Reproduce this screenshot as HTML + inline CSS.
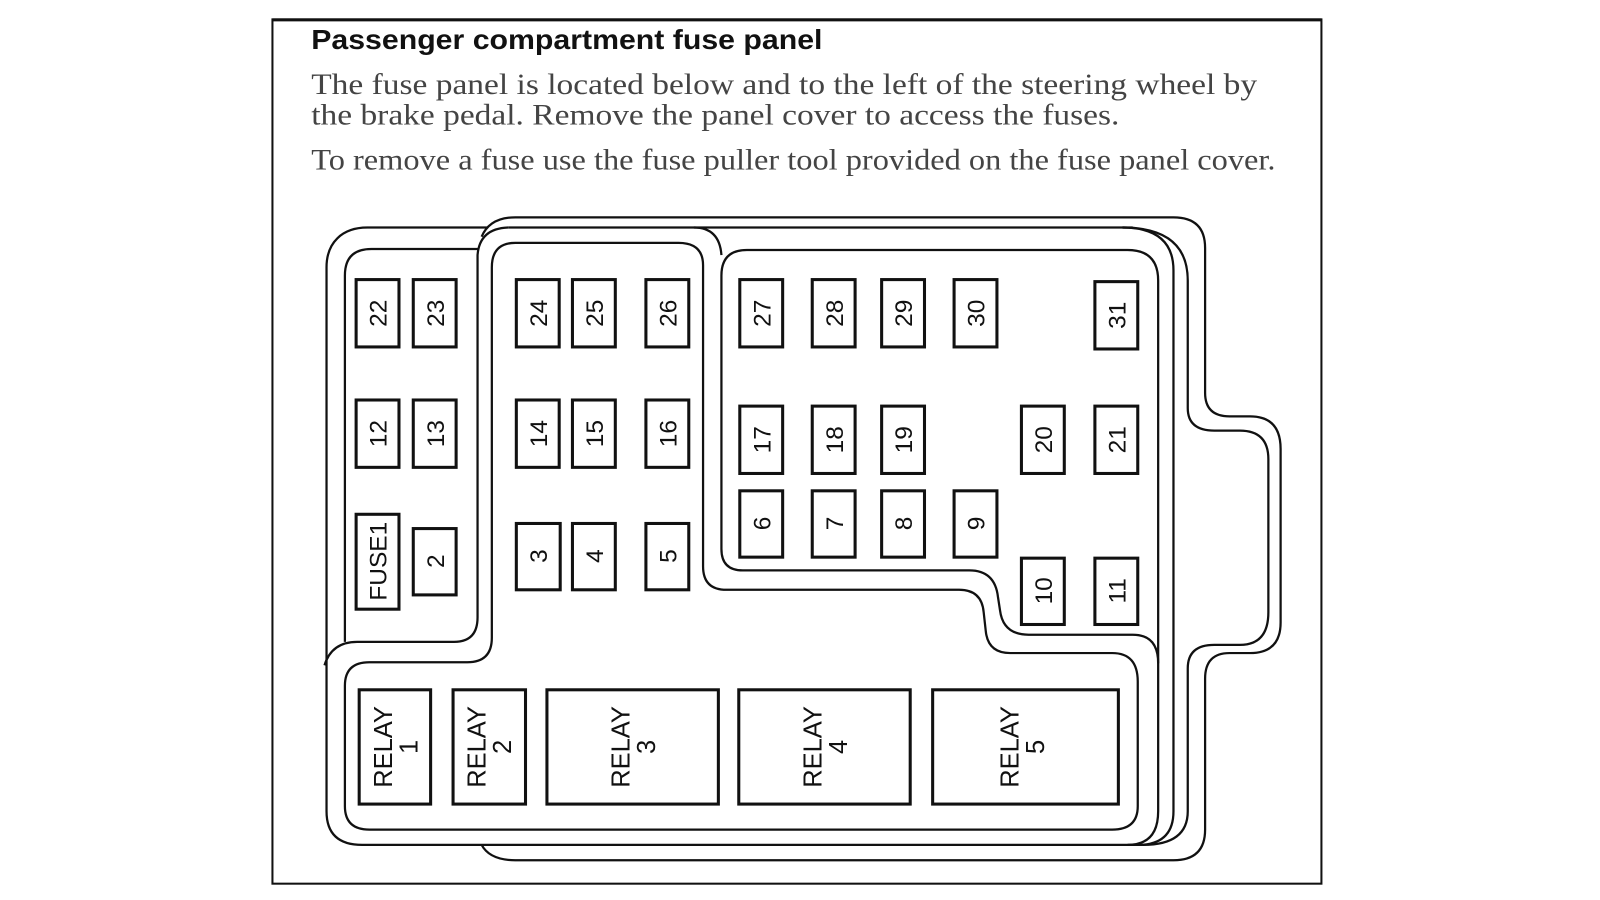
<!DOCTYPE html>
<html><head><meta charset="utf-8"><style>
html,body{margin:0;padding:0;background:#fff;width:1600px;height:900px;overflow:hidden}
svg{display:block}
</style></head><body>
<svg width="1600" height="900" viewBox="0 0 1568 882" xmlns="http://www.w3.org/2000/svg">
<rect x="267" y="19" width="1028" height="847" fill="#fff" stroke="#111" stroke-width="2"/>
<line x1="267" y1="19.5" x2="1295" y2="19.5" stroke="#111" stroke-width="3"/>
<text x="305" y="48" font-family="Liberation Sans, sans-serif" font-weight="bold" font-size="27" fill="#111" textLength="501" lengthAdjust="spacingAndGlyphs">Passenger compartment fuse panel</text>
<g font-family="Liberation Serif, serif" font-size="29" fill="#444">
<text x="305" y="92" textLength="927" lengthAdjust="spacingAndGlyphs">The fuse panel is located below and to the left of the steering wheel by</text>
<text x="305" y="122" textLength="792" lengthAdjust="spacingAndGlyphs">the brake pedal. Remove the panel cover to access the fuses.</text>
<text x="305" y="166" textLength="945" lengthAdjust="spacingAndGlyphs">To remove a fuse use the fuse puller tool provided on the fuse panel cover.</text>
</g>
<g fill="none" stroke="#111" stroke-width="2.2">
<path d="M472,232 Q480,213 505,213 L1150,213 Q1181,213 1181,243 L1181,385 Q1181,408 1205,408 L1225,408 Q1255,408 1255,440 L1255,610 Q1255,640 1225,640 L1205,640 Q1181,640 1181,665 L1181,813 Q1181,843 1150,843 L505,843 Q480,843 472,828"/>
<path d="M1100,223 Q1164,223 1164,275 L1164,400 Q1164,422 1190,422 L1215,422 Q1243,422 1243,450 L1243,600 Q1243,632 1215,632 L1190,632 Q1164,632 1164,655 L1164,795 Q1164,828 1120,828"/>
<path d="M1100,223 Q1150,223 1150,265 L1150,795 Q1150,828 1115,828"/>
<path d="M478,223 L360,223 C335,223 320,238 320,262 L320,795 Q320,828 355,828 L1120,828"/>
<path d="M498,223 L1110,223"/>
<path d="M707,270 Q707,245 732,245 L1105,245 Q1135,245 1135,275 L1135,795 Q1135,828 1105,828"/>
<path d="M707,270 L707,538 Q707,559 728,559 L950,559 Q975,559 978,585 L980,598 Q983,622 1008,622 L1110,622 Q1135,622 1135,650"/>
<path d="M689,260 Q689,238 665,238 L505,238 Q482,238 482,262 L482,625 Q482,649 458,649 L362,649 Q338,649 338,672 L338,790 Q338,813 362,813 L1090,813 Q1115,813 1115,790 L1115,668 Q1115,640 1090,640 L990,640 Q968,640 966,618 L964,600 Q962,578 940,578 L712,578 Q689,578 689,555 Z"/>
<path d="M338,629 L338,270 Q338,244 364,244 L468,244"/>
<path d="M318,652 Q325,629 350,629 L445,629 Q468,629 468,605 L468,250 Q470,224 498,223"/>
<path d="M680,223 Q705,223 707,250"/>
</g>
<g fill="none" stroke="#111" stroke-width="3">
<rect x="349" y="274" width="42" height="66"/><rect x="405" y="274" width="42" height="66"/>
<rect x="506" y="274" width="42" height="66"/><rect x="561" y="274" width="42" height="66"/>
<rect x="633" y="274" width="42" height="66"/><rect x="725" y="274" width="42" height="66"/>
<rect x="796" y="274" width="42" height="66"/><rect x="864" y="274" width="42" height="66"/>
<rect x="935" y="274" width="42" height="66"/><rect x="1073" y="276" width="42" height="66"/>
<rect x="349" y="392" width="42" height="66"/><rect x="405" y="392" width="42" height="66"/>
<rect x="506" y="392" width="42" height="66"/><rect x="561" y="392" width="42" height="66"/>
<rect x="633" y="392" width="42" height="66"/>
<rect x="725" y="398" width="42" height="66"/><rect x="796" y="398" width="42" height="66"/>
<rect x="864" y="398" width="42" height="66"/><rect x="1001" y="398" width="42" height="66"/>
<rect x="1073" y="398" width="42" height="66"/>
<rect x="349" y="504" width="42" height="93"/><rect x="405" y="518" width="42" height="65"/>
<rect x="506" y="513" width="43" height="65"/><rect x="561" y="513" width="42" height="65"/>
<rect x="633" y="513" width="42" height="65"/>
<rect x="725" y="481" width="42" height="65"/><rect x="796" y="481" width="42" height="65"/>
<rect x="864" y="481" width="42" height="65"/><rect x="935" y="481" width="42" height="65"/>
<rect x="1001" y="547" width="42" height="65"/><rect x="1073" y="547" width="42" height="65"/>
<rect x="352" y="676" width="70" height="112"/><rect x="444" y="676" width="71" height="112"/>
<rect x="536" y="676" width="168" height="112"/><rect x="724" y="676" width="168" height="112"/>
<rect x="914" y="676" width="182" height="112"/>
</g>
<g font-family="Liberation Sans, sans-serif" font-size="24" fill="#111" text-anchor="middle">
<text transform="translate(379,307) rotate(-90)">22</text>
<text transform="translate(435,307) rotate(-90)">23</text>
<text transform="translate(536,307) rotate(-90)">24</text>
<text transform="translate(591,307) rotate(-90)">25</text>
<text transform="translate(663,307) rotate(-90)">26</text>
<text transform="translate(755,307) rotate(-90)">27</text>
<text transform="translate(826,307) rotate(-90)">28</text>
<text transform="translate(894,307) rotate(-90)">29</text>
<text transform="translate(965,307) rotate(-90)">30</text>
<text transform="translate(1103,309) rotate(-90)">31</text>
<text transform="translate(379,425) rotate(-90)">12</text>
<text transform="translate(435,425) rotate(-90)">13</text>
<text transform="translate(536,425) rotate(-90)">14</text>
<text transform="translate(591,425) rotate(-90)">15</text>
<text transform="translate(663,425) rotate(-90)">16</text>
<text transform="translate(755,431) rotate(-90)">17</text>
<text transform="translate(826,431) rotate(-90)">18</text>
<text transform="translate(894,431) rotate(-90)">19</text>
<text transform="translate(1031,431) rotate(-90)">20</text>
<text transform="translate(1103,431) rotate(-90)">21</text>
<text transform="translate(379,550) rotate(-90)">FUSE1</text>
<text transform="translate(435,550) rotate(-90)">2</text>
<text transform="translate(536,545) rotate(-90)">3</text>
<text transform="translate(591,545) rotate(-90)">4</text>
<text transform="translate(663,545) rotate(-90)">5</text>
<text transform="translate(755,513) rotate(-90)">6</text>
<text transform="translate(826,513) rotate(-90)">7</text>
<text transform="translate(894,513) rotate(-90)">8</text>
<text transform="translate(965,513) rotate(-90)">9</text>
<text transform="translate(1031,579) rotate(-90)">10</text>
<text transform="translate(1103,579) rotate(-90)">11</text>
</g>
<g font-family="Liberation Sans, sans-serif" font-size="25" fill="#111" text-anchor="middle">
<text transform="translate(384,732) rotate(-90)">RELAY</text><text transform="translate(409,732) rotate(-90)">1</text>
<text transform="translate(476,732) rotate(-90)">RELAY</text><text transform="translate(501,732) rotate(-90)">2</text>
<text transform="translate(617,732) rotate(-90)">RELAY</text><text transform="translate(642,732) rotate(-90)">3</text>
<text transform="translate(805,732) rotate(-90)">RELAY</text><text transform="translate(830,732) rotate(-90)">4</text>
<text transform="translate(998,732) rotate(-90)">RELAY</text><text transform="translate(1023,732) rotate(-90)">5</text>
</g>
</svg>
</body></html>
